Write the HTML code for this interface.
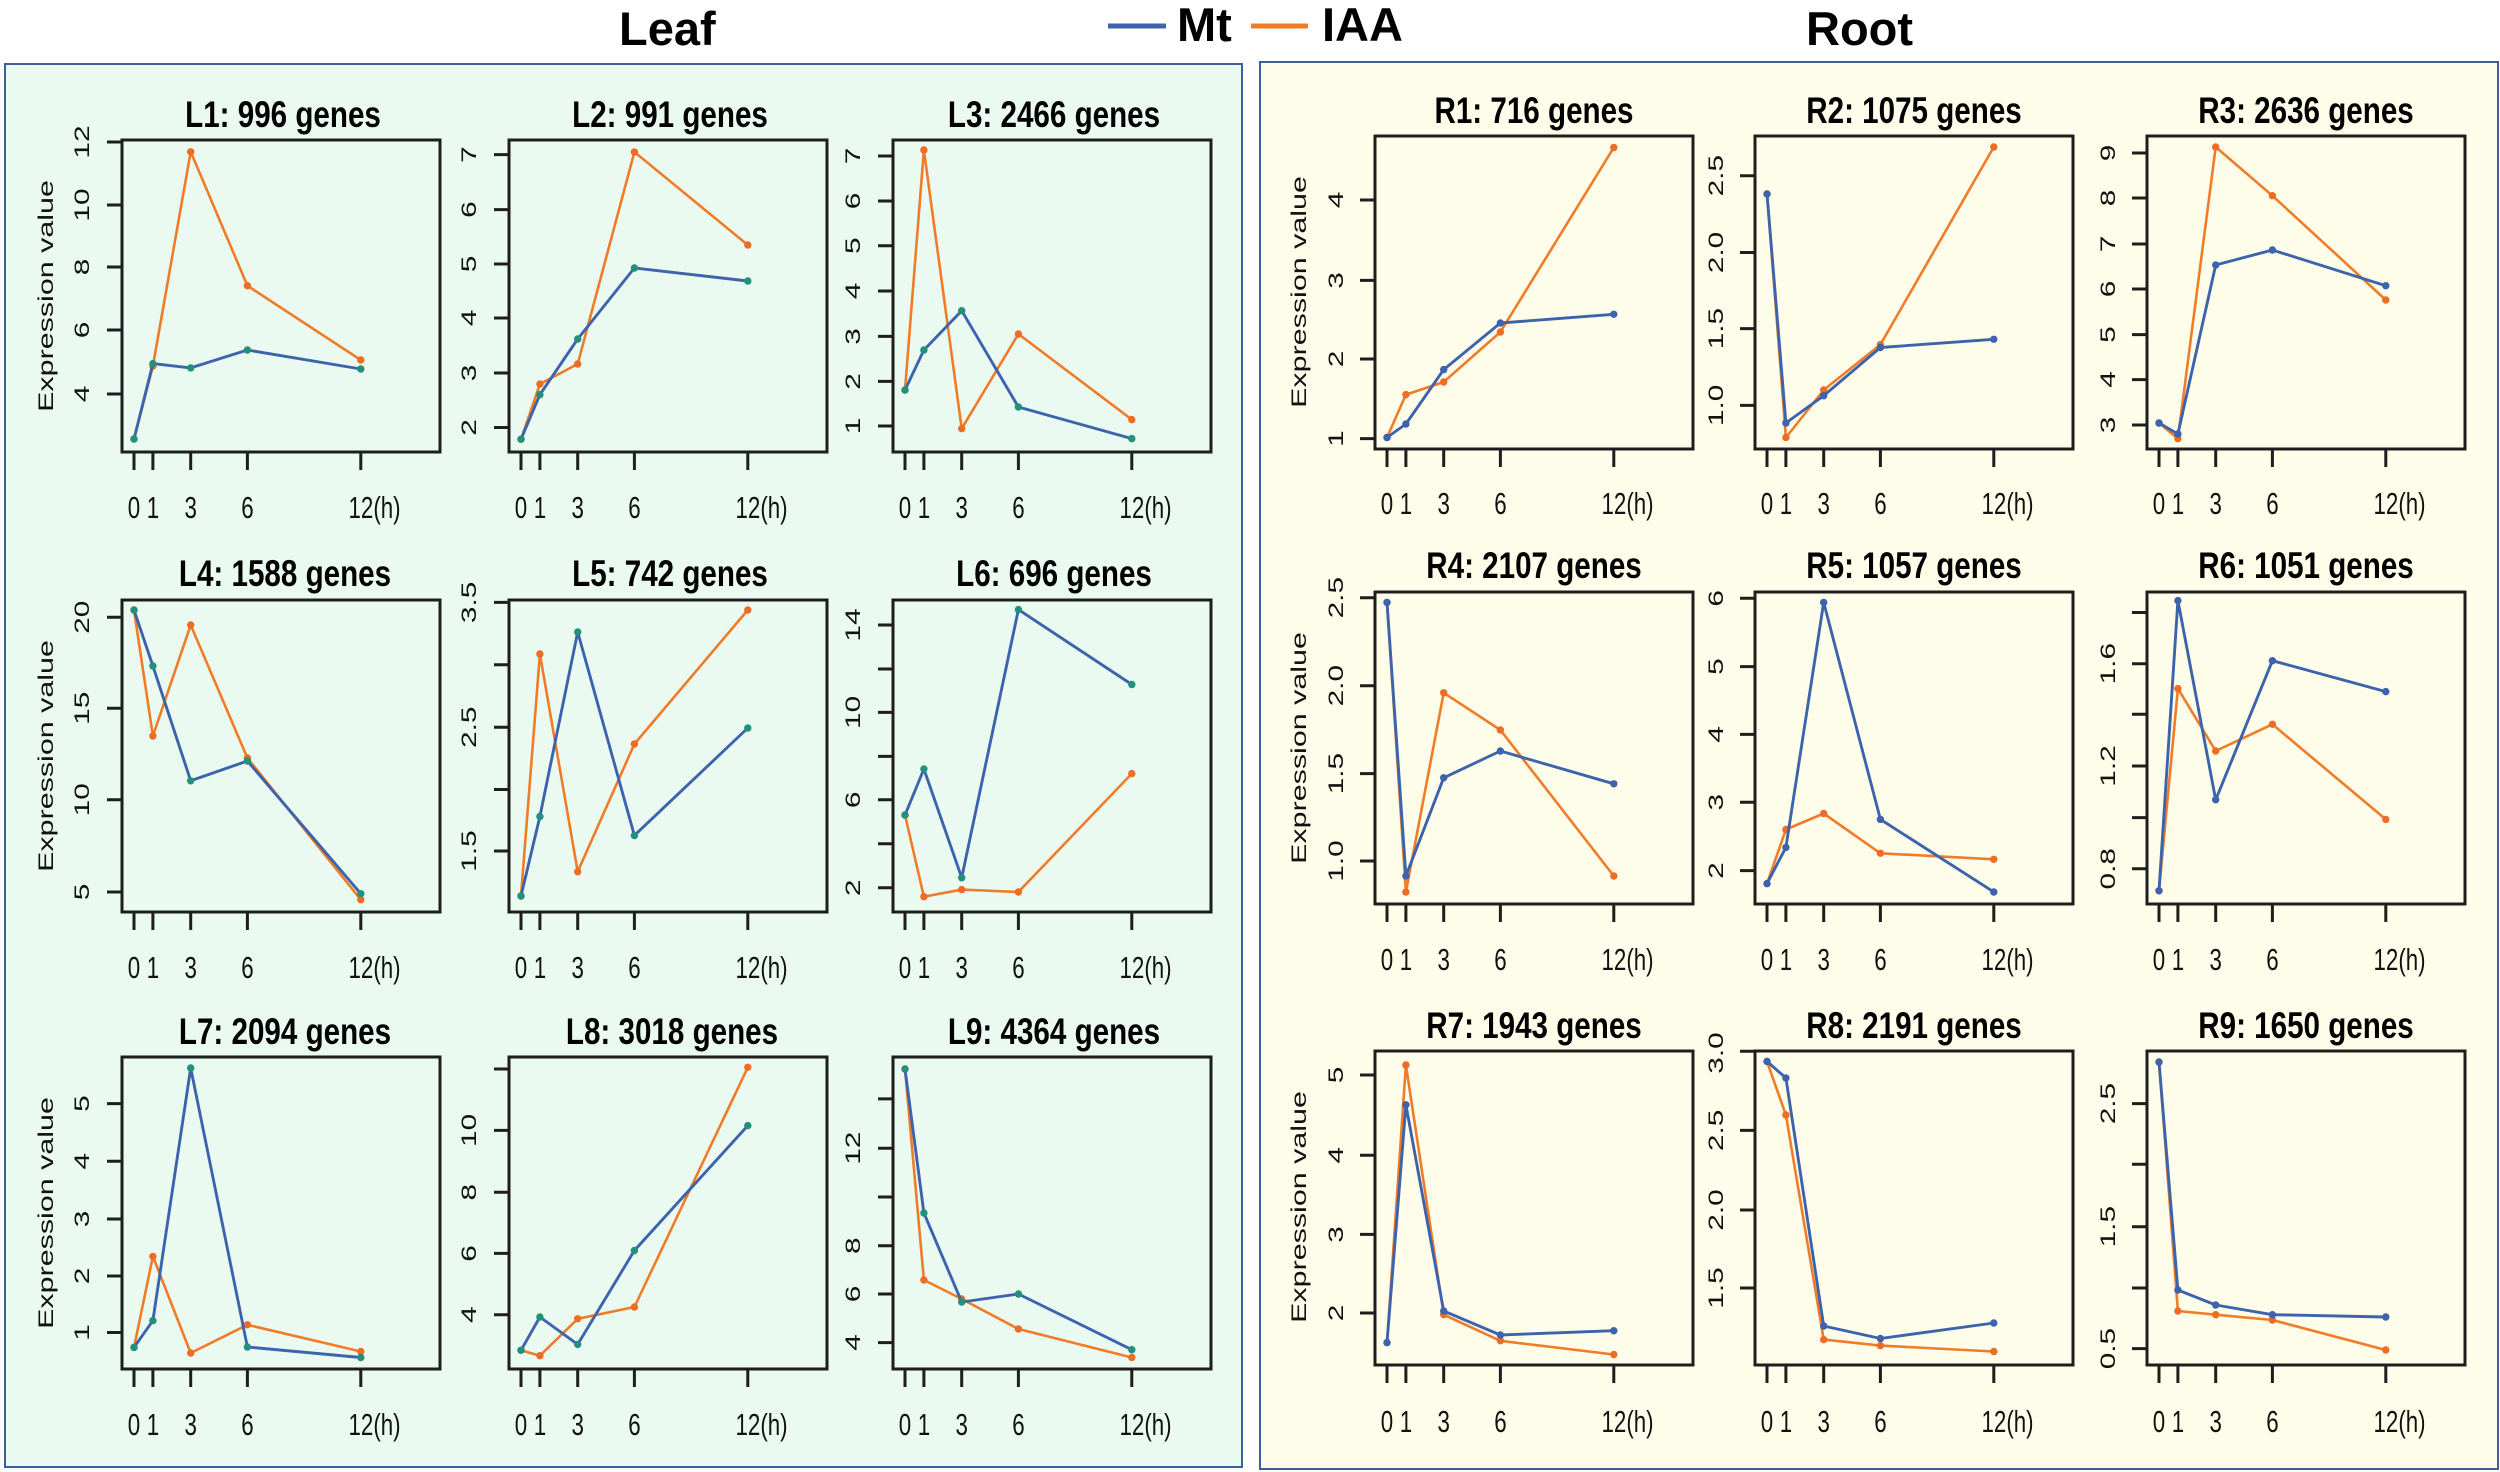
<!DOCTYPE html>
<html><head><meta charset="utf-8"><style>
html,body{margin:0;padding:0;background:#fff;}
svg{display:block;}
.h{font-family:"Liberation Sans",sans-serif;font-weight:bold;font-size:47px;fill:#000;}
.t{font-family:"Liberation Sans",sans-serif;font-weight:bold;font-size:37px;fill:#000;}
.xl{font-family:"Liberation Sans",sans-serif;font-size:31px;fill:#111;}
.yl{font-family:"Liberation Sans",sans-serif;font-size:21px;fill:#111;}
.box{fill:none;stroke:#1e1e1e;stroke-width:3;}
.tk{fill:none;stroke:#1e1e1e;stroke-width:3;}
.mt{fill:none;stroke:#3d63ac;stroke-width:2.9;stroke-linejoin:round;}
.ia{fill:none;stroke:#f07c28;stroke-width:2.6;stroke-linejoin:round;}
.lm{marker-start:url(#mg);marker-mid:url(#mg);marker-end:url(#mg);}
.rm{marker-start:url(#mb);marker-mid:url(#mb);marker-end:url(#mb);}
.om{marker-start:url(#mo);marker-mid:url(#mo);marker-end:url(#mo);}
</style></head><body>
<svg width="2500" height="1472" viewBox="0 0 2500 1472" xmlns="http://www.w3.org/2000/svg">
<defs>
<marker id="mg" markerUnits="userSpaceOnUse" markerWidth="10" markerHeight="10" refX="5" refY="5"><circle cx="5" cy="5" r="3.7" fill="#22907a"/></marker>
<marker id="mb" markerUnits="userSpaceOnUse" markerWidth="10" markerHeight="10" refX="5" refY="5"><circle cx="5" cy="5" r="3.7" fill="#3d63ac"/></marker>
<marker id="mo" markerUnits="userSpaceOnUse" markerWidth="10" markerHeight="10" refX="5" refY="5"><circle cx="5" cy="5" r="3.7" fill="#ec6d26"/></marker>
</defs>
<rect x="0" y="0" width="2500" height="1472" fill="#fff"/>
<!-- headers -->
<text class="h" x="619" y="45">Leaf</text>
<line x1="1108" y1="26" x2="1166" y2="26" stroke="#3d63ac" stroke-width="5"/>
<text class="h" x="1177" y="41">Mt</text>
<line x1="1251" y1="26" x2="1308" y2="26" stroke="#f07c28" stroke-width="5"/>
<text class="h" x="1322" y="41">IAA</text>
<text class="h" x="1806" y="45">Root</text>
<!-- panels -->
<rect x="5" y="64" width="1237" height="1403" fill="#eafaf1" stroke="#3c5f9a" stroke-width="2"/>
<rect x="1260" y="62" width="1238" height="1407" fill="#fefdea" stroke="#3c5f9a" stroke-width="2"/>

<!-- ================= L1 ================= -->
<g transform="translate(122,140)">
<rect class="box" x="0" y="0" width="318" height="312"/>
<path class="tk" d="M12 312v18M30.9 312v18M68.7 312v18M125.4 312v18M238.8 312v18M0 254h-15M0 190h-15M0 127h-15M0 65h-15M0 2h-15"/>
<g class="yl" text-anchor="middle">
<text transform="translate(-33,254) rotate(-90) scale(1.42,1)">4</text>
<text transform="translate(-33,190) rotate(-90) scale(1.42,1)">6</text>
<text transform="translate(-33,127) rotate(-90) scale(1.42,1)">8</text>
<text transform="translate(-33,65) rotate(-90) scale(1.42,1)">10</text>
<text transform="translate(-33,2) rotate(-90) scale(1.42,1)">12</text>
<text transform="translate(-69,156) rotate(-90) scale(1.45,1)">Expression value</text>
</g>
<g class="xl" text-anchor="middle">
<text transform="translate(12,378) scale(.72,1)">0</text>
<text transform="translate(30.9,378) scale(.72,1)">1</text>
<text transform="translate(68.7,378) scale(.72,1)">3</text>
<text transform="translate(125.4,378) scale(.72,1)">6</text>
<text transform="translate(226.5,378) scale(.72,1)" text-anchor="start">12(h)</text>
</g>
<text class="t" text-anchor="middle" transform="translate(161,-13) scale(.8,1)">L1: 996 genes</text>
<polyline class="ia om" points="12,299 30.9,226 68.7,11.8 125.4,145.7 238.8,220"/>
<polyline class="mt lm" points="12,299 30.9,223.6 68.7,227.9 125.4,210 238.8,229"/>
</g>

<!-- ================= L2 ================= -->
<g transform="translate(509,140)">
<rect class="box" x="0" y="0" width="318" height="312"/>
<path class="tk" d="M12 312v18M30.9 312v18M68.7 312v18M125.4 312v18M238.8 312v18M0 287.5h-15M0 233h-15M0 178h-15M0 124h-15M0 69.6h-15M0 14.6h-15"/>
<g class="yl" text-anchor="middle">
<text transform="translate(-33,287.5) rotate(-90) scale(1.42,1)">2</text>
<text transform="translate(-33,233) rotate(-90) scale(1.42,1)">3</text>
<text transform="translate(-33,178) rotate(-90) scale(1.42,1)">4</text>
<text transform="translate(-33,124) rotate(-90) scale(1.42,1)">5</text>
<text transform="translate(-33,69.6) rotate(-90) scale(1.42,1)">6</text>
<text transform="translate(-33,14.6) rotate(-90) scale(1.42,1)">7</text>
</g>
<g class="xl" text-anchor="middle">
<text transform="translate(12,378) scale(.72,1)">0</text>
<text transform="translate(30.9,378) scale(.72,1)">1</text>
<text transform="translate(68.7,378) scale(.72,1)">3</text>
<text transform="translate(125.4,378) scale(.72,1)">6</text>
<text transform="translate(226.5,378) scale(.72,1)" text-anchor="start">12(h)</text>
</g>
<text class="t" text-anchor="middle" transform="translate(161,-13) scale(.8,1)">L2: 991 genes</text>
<polyline class="ia om" points="12,299.3 30.9,244 68.7,224 125.4,12 238.8,105"/>
<polyline class="mt lm" points="12,299.3 30.9,254.6 68.7,199 125.4,128 238.8,141"/>
</g>

<!-- ================= L3 ================= -->
<g transform="translate(893,140)">
<rect class="box" x="0" y="0" width="318" height="312"/>
<path class="tk" d="M12 312v18M30.9 312v18M68.7 312v18M125.4 312v18M238.8 312v18M0 286h-15M0 241.4h-15M0 196.4h-15M0 151h-15M0 105.7h-15M0 61h-15M0 16h-15"/>
<g class="yl" text-anchor="middle">
<text transform="translate(-33,286) rotate(-90) scale(1.42,1)">1</text>
<text transform="translate(-33,241.4) rotate(-90) scale(1.42,1)">2</text>
<text transform="translate(-33,196.4) rotate(-90) scale(1.42,1)">3</text>
<text transform="translate(-33,151) rotate(-90) scale(1.42,1)">4</text>
<text transform="translate(-33,105.7) rotate(-90) scale(1.42,1)">5</text>
<text transform="translate(-33,61) rotate(-90) scale(1.42,1)">6</text>
<text transform="translate(-33,16) rotate(-90) scale(1.42,1)">7</text>
</g>
<g class="xl" text-anchor="middle">
<text transform="translate(12,378) scale(.72,1)">0</text>
<text transform="translate(30.9,378) scale(.72,1)">1</text>
<text transform="translate(68.7,378) scale(.72,1)">3</text>
<text transform="translate(125.4,378) scale(.72,1)">6</text>
<text transform="translate(226.5,378) scale(.72,1)" text-anchor="start">12(h)</text>
</g>
<text class="t" text-anchor="middle" transform="translate(161,-13) scale(.8,1)">L3: 2466 genes</text>
<polyline class="ia om" points="12,250 30.9,10 68.7,288.6 125.4,194 238.8,279.6"/>
<polyline class="mt lm" points="12,250 30.9,210 68.7,170.7 125.4,267 238.8,298.6"/>
</g>

<!-- ================= L4 ================= -->
<g transform="translate(122,600)">
<rect class="box" x="0" y="0" width="318" height="312"/>
<path class="tk" d="M12 312v18M30.9 312v18M68.7 312v18M125.4 312v18M238.8 312v18M0 292h-15M0 199.8h-15M0 108.3h-15M0 17.3h-15"/>
<g class="yl" text-anchor="middle">
<text transform="translate(-33,292) rotate(-90) scale(1.42,1)">5</text>
<text transform="translate(-33,199.8) rotate(-90) scale(1.42,1)">10</text>
<text transform="translate(-33,108.3) rotate(-90) scale(1.42,1)">15</text>
<text transform="translate(-33,17.3) rotate(-90) scale(1.42,1)">20</text>
<text transform="translate(-69,156) rotate(-90) scale(1.45,1)">Expression value</text>
</g>
<g class="xl" text-anchor="middle">
<text transform="translate(12,378) scale(.72,1)">0</text>
<text transform="translate(30.9,378) scale(.72,1)">1</text>
<text transform="translate(68.7,378) scale(.72,1)">3</text>
<text transform="translate(125.4,378) scale(.72,1)">6</text>
<text transform="translate(226.5,378) scale(.72,1)" text-anchor="start">12(h)</text>
</g>
<text class="t" text-anchor="middle" transform="translate(163,-14) scale(.8,1)">L4: 1588 genes</text>
<polyline class="ia om" points="12,10 30.9,136 68.7,25 125.4,158 238.8,299.7"/>
<polyline class="mt lm" points="12,10 30.9,66 68.7,180.8 125.4,161 238.8,293.7"/>
</g>

<!-- ================= L5 ================= -->
<g transform="translate(509,600)">
<rect class="box" x="0" y="0" width="318" height="312"/>
<path class="tk" d="M12 312v18M30.9 312v18M68.7 312v18M125.4 312v18M238.8 312v18M0 251h-15M0 189.5h-15M0 127.3h-15M0 64.8h-15M0 2.4h-15"/>
<g class="yl" text-anchor="middle">
<text transform="translate(-33,251) rotate(-90) scale(1.42,1)">1.5</text>
<text transform="translate(-33,127.3) rotate(-90) scale(1.42,1)">2.5</text>
<text transform="translate(-33,2.4) rotate(-90) scale(1.42,1)">3.5</text>
</g>
<g class="xl" text-anchor="middle">
<text transform="translate(12,378) scale(.72,1)">0</text>
<text transform="translate(30.9,378) scale(.72,1)">1</text>
<text transform="translate(68.7,378) scale(.72,1)">3</text>
<text transform="translate(125.4,378) scale(.72,1)">6</text>
<text transform="translate(226.5,378) scale(.72,1)" text-anchor="start">12(h)</text>
</g>
<text class="t" text-anchor="middle" transform="translate(161,-14) scale(.8,1)">L5: 742 genes</text>
<polyline class="ia om" points="12,296 30.9,54 68.7,271.7 125.4,144 238.8,10"/>
<polyline class="mt lm" points="12,296 30.9,216.5 68.7,32 125.4,235.5 238.8,128"/>
</g>

<!-- ================= L6 ================= -->
<g transform="translate(893,600)">
<rect class="box" x="0" y="0" width="318" height="312"/>
<path class="tk" d="M12 312v18M30.9 312v18M68.7 312v18M125.4 312v18M238.8 312v18M0 287.8h-15M0 243.8h-15M0 199.8h-15M0 156.4h-15M0 112.4h-15M0 69h-15M0 25h-15"/>
<g class="yl" text-anchor="middle">
<text transform="translate(-33,287.8) rotate(-90) scale(1.42,1)">2</text>
<text transform="translate(-33,199.8) rotate(-90) scale(1.42,1)">6</text>
<text transform="translate(-33,112.4) rotate(-90) scale(1.42,1)">10</text>
<text transform="translate(-33,25) rotate(-90) scale(1.42,1)">14</text>
</g>
<g class="xl" text-anchor="middle">
<text transform="translate(12,378) scale(.72,1)">0</text>
<text transform="translate(30.9,378) scale(.72,1)">1</text>
<text transform="translate(68.7,378) scale(.72,1)">3</text>
<text transform="translate(125.4,378) scale(.72,1)">6</text>
<text transform="translate(226.5,378) scale(.72,1)" text-anchor="start">12(h)</text>
</g>
<text class="t" text-anchor="middle" transform="translate(161,-14) scale(.8,1)">L6: 696 genes</text>
<polyline class="ia om" points="12,215 30.9,296.7 68.7,289.6 125.4,292 238.8,173.6"/>
<polyline class="mt lm" points="12,215 30.9,169 68.7,277.7 125.4,9.6 238.8,84.5"/>
</g>

<!-- ================= L7 ================= -->
<g transform="translate(122,1057)">
<rect class="box" x="0" y="0" width="318" height="312"/>
<path class="tk" d="M12 312v18M30.9 312v18M68.7 312v18M125.4 312v18M238.8 312v18M0 275.5h-15M0 219h-15M0 162h-15M0 104.3h-15M0 46.6h-15"/>
<g class="yl" text-anchor="middle">
<text transform="translate(-33,275.5) rotate(-90) scale(1.42,1)">1</text>
<text transform="translate(-33,219) rotate(-90) scale(1.42,1)">2</text>
<text transform="translate(-33,162) rotate(-90) scale(1.42,1)">3</text>
<text transform="translate(-33,104.3) rotate(-90) scale(1.42,1)">4</text>
<text transform="translate(-33,46.6) rotate(-90) scale(1.42,1)">5</text>
<text transform="translate(-69,156) rotate(-90) scale(1.45,1)">Expression value</text>
</g>
<g class="xl" text-anchor="middle">
<text transform="translate(12,378) scale(.72,1)">0</text>
<text transform="translate(30.9,378) scale(.72,1)">1</text>
<text transform="translate(68.7,378) scale(.72,1)">3</text>
<text transform="translate(125.4,378) scale(.72,1)">6</text>
<text transform="translate(226.5,378) scale(.72,1)" text-anchor="start">12(h)</text>
</g>
<text class="t" text-anchor="middle" transform="translate(163,-13) scale(.8,1)">L7: 2094 genes</text>
<polyline class="ia om" points="12,290.4 30.9,199.4 68.7,296 125.4,267.8 238.8,294.5"/>
<polyline class="mt lm" points="12,290.4 30.9,263.6 68.7,11 125.4,290 238.8,300.5"/>
</g>

<!-- ================= L8 ================= -->
<g transform="translate(509,1057)">
<rect class="box" x="0" y="0" width="318" height="312"/>
<path class="tk" d="M12 312v18M30.9 312v18M68.7 312v18M125.4 312v18M238.8 312v18M0 257.7h-15M0 196.4h-15M0 135.2h-15M0 73.4h-15M0 12h-15"/>
<g class="yl" text-anchor="middle">
<text transform="translate(-33,257.7) rotate(-90) scale(1.42,1)">4</text>
<text transform="translate(-33,196.4) rotate(-90) scale(1.42,1)">6</text>
<text transform="translate(-33,135.2) rotate(-90) scale(1.42,1)">8</text>
<text transform="translate(-33,73.4) rotate(-90) scale(1.42,1)">10</text>
</g>
<g class="xl" text-anchor="middle">
<text transform="translate(12,378) scale(.72,1)">0</text>
<text transform="translate(30.9,378) scale(.72,1)">1</text>
<text transform="translate(68.7,378) scale(.72,1)">3</text>
<text transform="translate(125.4,378) scale(.72,1)">6</text>
<text transform="translate(226.5,378) scale(.72,1)" text-anchor="start">12(h)</text>
</g>
<text class="t" text-anchor="middle" transform="translate(163,-13) scale(.8,1)">L8: 3018 genes</text>
<polyline class="ia om" points="12,293.3 30.9,298.7 68.7,261.8 125.4,250 238.8,10.3"/>
<polyline class="mt lm" points="12,293.3 30.9,260 68.7,287.4 125.4,193.5 238.8,68.6"/>
</g>

<!-- ================= L9 ================= -->
<g transform="translate(893,1057)">
<rect class="box" x="0" y="0" width="318" height="312"/>
<path class="tk" d="M12 312v18M30.9 312v18M68.7 312v18M125.4 312v18M238.8 312v18M0 285.6h-15M0 237h-15M0 188.7h-15M0 140h-15M0 91.2h-15M0 41.9h-15"/>
<g class="yl" text-anchor="middle">
<text transform="translate(-33,285.6) rotate(-90) scale(1.42,1)">4</text>
<text transform="translate(-33,237) rotate(-90) scale(1.42,1)">6</text>
<text transform="translate(-33,188.7) rotate(-90) scale(1.42,1)">8</text>
<text transform="translate(-33,91.2) rotate(-90) scale(1.42,1)">12</text>
</g>
<g class="xl" text-anchor="middle">
<text transform="translate(12,378) scale(.72,1)">0</text>
<text transform="translate(30.9,378) scale(.72,1)">1</text>
<text transform="translate(68.7,378) scale(.72,1)">3</text>
<text transform="translate(125.4,378) scale(.72,1)">6</text>
<text transform="translate(226.5,378) scale(.72,1)" text-anchor="start">12(h)</text>
</g>
<text class="t" text-anchor="middle" transform="translate(161,-13) scale(.8,1)">L9: 4364 genes</text>
<polyline class="ia om" points="12,12 30.9,223 68.7,242 125.4,272 238.8,300.5"/>
<polyline class="mt lm" points="12,12 30.9,156 68.7,245 125.4,237 238.8,292.7"/>
</g>

<!-- ================= R1 ================= -->
<g transform="translate(1375,136)">
<rect class="box" x="0" y="0" width="318" height="313"/>
<path class="tk" d="M12 313v18M30.9 313v18M68.7 313v18M125.4 313v18M238.8 313v18M0 302.6h-15M0 223h-15M0 144.4h-15M0 64h-15"/>
<g class="yl" text-anchor="middle">
<text transform="translate(-32,302.6) rotate(-90) scale(1.42,1)">1</text>
<text transform="translate(-32,223) rotate(-90) scale(1.42,1)">2</text>
<text transform="translate(-32,144.4) rotate(-90) scale(1.42,1)">3</text>
<text transform="translate(-32,64) rotate(-90) scale(1.42,1)">4</text>
<text transform="translate(-69,156) rotate(-90) scale(1.45,1)">Expression value</text>
</g>
<g class="xl" text-anchor="middle">
<text transform="translate(12,378) scale(.72,1)">0</text>
<text transform="translate(30.9,378) scale(.72,1)">1</text>
<text transform="translate(68.7,378) scale(.72,1)">3</text>
<text transform="translate(125.4,378) scale(.72,1)">6</text>
<text transform="translate(226.5,378) scale(.72,1)" text-anchor="start">12(h)</text>
</g>
<text class="t" text-anchor="middle" transform="translate(159,-13) scale(.8,1)">R1: 716 genes</text>
<polyline class="ia om" points="12,301.5 30.9,258.6 68.7,246 125.4,196 238.8,11.5"/>
<polyline class="mt rm" points="12,301.5 30.9,288 68.7,233.6 125.4,187 238.8,178.3"/>
</g>

<!-- ================= R2 ================= -->
<g transform="translate(1755,136)">
<rect class="box" x="0" y="0" width="318" height="313"/>
<path class="tk" d="M12 313v18M30.9 313v18M68.7 313v18M125.4 313v18M238.8 313v18M0 269.4h-15M0 192.6h-15M0 116.5h-15M0 39.7h-15"/>
<g class="yl" text-anchor="middle">
<text transform="translate(-32,269.4) rotate(-90) scale(1.42,1)">1.0</text>
<text transform="translate(-32,192.6) rotate(-90) scale(1.42,1)">1.5</text>
<text transform="translate(-32,116.5) rotate(-90) scale(1.42,1)">2.0</text>
<text transform="translate(-32,39.7) rotate(-90) scale(1.42,1)">2.5</text>
</g>
<g class="xl" text-anchor="middle">
<text transform="translate(12,378) scale(.72,1)">0</text>
<text transform="translate(30.9,378) scale(.72,1)">1</text>
<text transform="translate(68.7,378) scale(.72,1)">3</text>
<text transform="translate(125.4,378) scale(.72,1)">6</text>
<text transform="translate(226.5,378) scale(.72,1)" text-anchor="start">12(h)</text>
</g>
<text class="t" text-anchor="middle" transform="translate(159,-13) scale(.8,1)">R2: 1075 genes</text>
<polyline class="ia om" points="12,58 30.9,301.5 68.7,254 125.4,208.6 238.8,11"/>
<polyline class="mt rm" points="12,58 30.9,287 68.7,259.7 125.4,211.5 238.8,203.3"/>
</g>

<!-- ================= R3 ================= -->
<g transform="translate(2147,136)">
<rect class="box" x="0" y="0" width="318" height="313"/>
<path class="tk" d="M12 313v18M30.9 313v18M68.7 313v18M125.4 313v18M238.8 313v18M0 289h-15M0 243.6h-15M0 198.6h-15M0 153h-15M0 108h-15M0 62h-15M0 17h-15"/>
<g class="yl" text-anchor="middle">
<text transform="translate(-32,289) rotate(-90) scale(1.42,1)">3</text>
<text transform="translate(-32,243.6) rotate(-90) scale(1.42,1)">4</text>
<text transform="translate(-32,198.6) rotate(-90) scale(1.42,1)">5</text>
<text transform="translate(-32,153) rotate(-90) scale(1.42,1)">6</text>
<text transform="translate(-32,108) rotate(-90) scale(1.42,1)">7</text>
<text transform="translate(-32,62) rotate(-90) scale(1.42,1)">8</text>
<text transform="translate(-32,17) rotate(-90) scale(1.42,1)">9</text>
</g>
<g class="xl" text-anchor="middle">
<text transform="translate(12,378) scale(.72,1)">0</text>
<text transform="translate(30.9,378) scale(.72,1)">1</text>
<text transform="translate(68.7,378) scale(.72,1)">3</text>
<text transform="translate(125.4,378) scale(.72,1)">6</text>
<text transform="translate(226.5,378) scale(.72,1)" text-anchor="start">12(h)</text>
</g>
<text class="t" text-anchor="middle" transform="translate(159,-13) scale(.8,1)">R3: 2636 genes</text>
<polyline class="ia om" points="12,287 30.9,302.6 68.7,11 125.4,59.7 238.8,164"/>
<polyline class="mt rm" points="12,287 30.9,298 68.7,129 125.4,114 238.8,149.7"/>
</g>

<!-- ================= R4 ================= -->
<g transform="translate(1375,592)">
<rect class="box" x="0" y="0" width="318" height="312"/>
<path class="tk" d="M12 312v18M30.9 312v18M68.7 312v18M125.4 312v18M238.8 312v18M0 269h-15M0 181.6h-15M0 93.7h-15M0 5.7h-15"/>
<g class="yl" text-anchor="middle">
<text transform="translate(-32,269) rotate(-90) scale(1.42,1)">1.0</text>
<text transform="translate(-32,181.6) rotate(-90) scale(1.42,1)">1.5</text>
<text transform="translate(-32,93.7) rotate(-90) scale(1.42,1)">2.0</text>
<text transform="translate(-32,5.7) rotate(-90) scale(1.42,1)">2.5</text>
<text transform="translate(-69,156) rotate(-90) scale(1.45,1)">Expression value</text>
</g>
<g class="xl" text-anchor="middle">
<text transform="translate(12,378) scale(.72,1)">0</text>
<text transform="translate(30.9,378) scale(.72,1)">1</text>
<text transform="translate(68.7,378) scale(.72,1)">3</text>
<text transform="translate(125.4,378) scale(.72,1)">6</text>
<text transform="translate(226.5,378) scale(.72,1)" text-anchor="start">12(h)</text>
</g>
<text class="t" text-anchor="middle" transform="translate(159,-14) scale(.8,1)">R4: 2107 genes</text>
<polyline class="ia om" points="12,10.4 30.9,300 68.7,100.8 125.4,138 238.8,284"/>
<polyline class="mt rm" points="12,10.4 30.9,284 68.7,185.8 125.4,159 238.8,191.8"/>
</g>

<!-- ================= R5 ================= -->
<g transform="translate(1755,592)">
<rect class="box" x="0" y="0" width="318" height="312"/>
<path class="tk" d="M12 312v18M30.9 312v18M68.7 312v18M125.4 312v18M238.8 312v18M0 278.6h-15M0 210.2h-15M0 142.4h-15M0 74.6h-15M0 6.3h-15"/>
<g class="yl" text-anchor="middle">
<text transform="translate(-32,278.6) rotate(-90) scale(1.42,1)">2</text>
<text transform="translate(-32,210.2) rotate(-90) scale(1.42,1)">3</text>
<text transform="translate(-32,142.4) rotate(-90) scale(1.42,1)">4</text>
<text transform="translate(-32,74.6) rotate(-90) scale(1.42,1)">5</text>
<text transform="translate(-32,6.3) rotate(-90) scale(1.42,1)">6</text>
</g>
<g class="xl" text-anchor="middle">
<text transform="translate(12,378) scale(.72,1)">0</text>
<text transform="translate(30.9,378) scale(.72,1)">1</text>
<text transform="translate(68.7,378) scale(.72,1)">3</text>
<text transform="translate(125.4,378) scale(.72,1)">6</text>
<text transform="translate(226.5,378) scale(.72,1)" text-anchor="start">12(h)</text>
</g>
<text class="t" text-anchor="middle" transform="translate(159,-14) scale(.8,1)">R5: 1057 genes</text>
<polyline class="ia om" points="12,291.6 30.9,237.5 68.7,221.5 125.4,261.3 238.8,267.3"/>
<polyline class="mt rm" points="12,291.6 30.9,255.4 68.7,10.4 125.4,227.4 238.8,300"/>
</g>

<!-- ================= R6 ================= -->
<g transform="translate(2147,592)">
<rect class="box" x="0" y="0" width="318" height="312"/>
<path class="tk" d="M12 312v18M30.9 312v18M68.7 312v18M125.4 312v18M238.8 312v18M0 276.8h-15M0 225.6h-15M0 174h-15M0 122.2h-15M0 71.7h-15M0 20.5h-15"/>
<g class="yl" text-anchor="middle">
<text transform="translate(-32,276.8) rotate(-90) scale(1.42,1)">0.8</text>
<text transform="translate(-32,174) rotate(-90) scale(1.42,1)">1.2</text>
<text transform="translate(-32,71.7) rotate(-90) scale(1.42,1)">1.6</text>
</g>
<g class="xl" text-anchor="middle">
<text transform="translate(12,378) scale(.72,1)">0</text>
<text transform="translate(30.9,378) scale(.72,1)">1</text>
<text transform="translate(68.7,378) scale(.72,1)">3</text>
<text transform="translate(125.4,378) scale(.72,1)">6</text>
<text transform="translate(226.5,378) scale(.72,1)" text-anchor="start">12(h)</text>
</g>
<text class="t" text-anchor="middle" transform="translate(159,-14) scale(.8,1)">R6: 1051 genes</text>
<polyline class="ia om" points="12,298.8 30.9,96.6 68.7,159 125.4,132.3 238.8,227.4"/>
<polyline class="mt rm" points="12,298.8 30.9,8.6 68.7,207.8 125.4,68.7 238.8,99.6"/>
</g>

<!-- ================= R7 ================= -->
<g transform="translate(1375,1051)">
<rect class="box" x="0" y="0" width="318" height="314"/>
<path class="tk" d="M12 314v18M30.9 314v18M68.7 314v18M125.4 314v18M238.8 314v18M0 262h-15M0 183.4h-15M0 104.3h-15M0 24h-15"/>
<g class="yl" text-anchor="middle">
<text transform="translate(-32,262) rotate(-90) scale(1.42,1)">2</text>
<text transform="translate(-32,183.4) rotate(-90) scale(1.42,1)">3</text>
<text transform="translate(-32,104.3) rotate(-90) scale(1.42,1)">4</text>
<text transform="translate(-32,24) rotate(-90) scale(1.42,1)">5</text>
<text transform="translate(-69,156) rotate(-90) scale(1.45,1)">Expression value</text>
</g>
<g class="xl" text-anchor="middle">
<text transform="translate(12,381) scale(.72,1)">0</text>
<text transform="translate(30.9,381) scale(.72,1)">1</text>
<text transform="translate(68.7,381) scale(.72,1)">3</text>
<text transform="translate(125.4,381) scale(.72,1)">6</text>
<text transform="translate(226.5,381) scale(.72,1)" text-anchor="start">12(h)</text>
</g>
<text class="t" text-anchor="middle" transform="translate(159,-13) scale(.8,1)">R7: 1943 genes</text>
<polyline class="ia om" points="12,291.6 30.9,14 68.7,263.7 125.4,289.8 238.8,303.5"/>
<polyline class="mt rm" points="12,291.6 30.9,53.8 68.7,260 125.4,284 238.8,279.7"/>
</g>

<!-- ================= R8 ================= -->
<g transform="translate(1755,1051)">
<rect class="box" x="0" y="0" width="318" height="314"/>
<path class="tk" d="M12 314v18M30.9 314v18M68.7 314v18M125.4 314v18M238.8 314v18M0 237h-15M0 159h-15M0 79.4h-15M0 0.3h-15"/>
<g class="yl" text-anchor="middle">
<text transform="translate(-32,237) rotate(-90) scale(1.42,1)">1.5</text>
<text transform="translate(-32,159) rotate(-90) scale(1.42,1)">2.0</text>
<text transform="translate(-32,79.4) rotate(-90) scale(1.42,1)">2.5</text>
<text transform="translate(-32,2) rotate(-90) scale(1.42,1)">3.0</text>
</g>
<g class="xl" text-anchor="middle">
<text transform="translate(12,381) scale(.72,1)">0</text>
<text transform="translate(30.9,381) scale(.72,1)">1</text>
<text transform="translate(68.7,381) scale(.72,1)">3</text>
<text transform="translate(125.4,381) scale(.72,1)">6</text>
<text transform="translate(226.5,381) scale(.72,1)" text-anchor="start">12(h)</text>
</g>
<text class="t" text-anchor="middle" transform="translate(159,-13) scale(.8,1)">R8: 2191 genes</text>
<polyline class="ia om" points="12,10.4 30.9,64 68.7,288.6 125.4,294.6 238.8,300.5"/>
<polyline class="mt rm" points="12,10.4 30.9,27 68.7,275 125.4,287.5 238.8,272"/>
</g>

<!-- ================= R9 ================= -->
<g transform="translate(2147,1051)">
<rect class="box" x="0" y="0" width="318" height="314"/>
<path class="tk" d="M12 314v18M30.9 314v18M68.7 314v18M125.4 314v18M238.8 314v18M0 297.6h-15M0 237h-15M0 175.7h-15M0 113.3h-15M0 52.6h-15"/>
<g class="yl" text-anchor="middle">
<text transform="translate(-32,297.6) rotate(-90) scale(1.42,1)">0.5</text>
<text transform="translate(-32,175.7) rotate(-90) scale(1.42,1)">1.5</text>
<text transform="translate(-32,52.6) rotate(-90) scale(1.42,1)">2.5</text>
</g>
<g class="xl" text-anchor="middle">
<text transform="translate(12,381) scale(.72,1)">0</text>
<text transform="translate(30.9,381) scale(.72,1)">1</text>
<text transform="translate(68.7,381) scale(.72,1)">3</text>
<text transform="translate(125.4,381) scale(.72,1)">6</text>
<text transform="translate(226.5,381) scale(.72,1)" text-anchor="start">12(h)</text>
</g>
<text class="t" text-anchor="middle" transform="translate(159,-13) scale(.8,1)">R9: 1650 genes</text>
<polyline class="ia om" points="12,11 30.9,260 68.7,263.7 125.4,269 238.8,299"/>
<polyline class="mt rm" points="12,11 30.9,239 68.7,254 125.4,263.7 238.8,266"/>
</g>
</svg>
</body></html>
